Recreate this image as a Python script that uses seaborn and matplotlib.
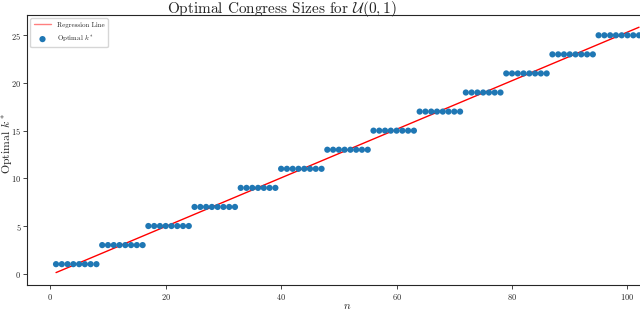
import numpy as np
import pandas as pd
import seaborn as sns
import matplotlib
matplotlib.use("Agg")
import matplotlib.pyplot as plt

# optimal congress size k* for each n
k_levels = [1, 3, 5, 7, 9, 11, 13, 15, 17, 19, 21, 23, 25]
group_sizes = [8, 8, 8, 8, 7, 8, 8, 8, 8, 7, 8, 8, 8]

n_vals = np.arange(1, sum(group_sizes) + 1)
k_vals = np.repeat(k_levels, group_sizes)
df = pd.DataFrame({"n": n_vals, "k": k_vals})

slope, intercept = np.polyfit(df["n"], df["k"], 1)
df["fit"] = intercept + slope * df["n"]

sns.set_style("ticks")
plt.rcParams["font.family"] = ["cmr10", "DejaVu Serif"]
plt.rcParams["mathtext.fontset"] = "cm"
plt.rcParams["axes.formatter.use_mathtext"] = True

fig = plt.figure(figsize=(6.4, 3.12), dpi=100)
ax = fig.add_axes([0.042, 0.087, 1.002, 0.865])

sns.lineplot(data=df, x="n", y="fit", ax=ax, color="red", lw=1.0,
             label="Regression Line")
sns.scatterplot(data=df, x="n", y="k", ax=ax, color="#1f77b4", s=20,
                edgecolor="none", label=r"Optimal $k^*$", zorder=3)

ax.set_xticks([0, 20, 40, 60, 80, 100])
ax.set_yticks([0, 5, 10, 15, 20, 25])
ax.tick_params(labelsize=6, length=3, width=0.6, pad=2)
ax.tick_params(axis="y", pad=1)
ax.set_xlabel(r"$n$", fontsize=8, labelpad=0)
ax.set_ylabel("")
fig.text(0.0105, 0.54, r"Optimal $k^*$", rotation=90, ha="center",
         va="center", fontsize=8.5)
for sp in ax.spines.values():
    sp.set_linewidth(0.8)

leg = ax.legend(loc="upper left", fontsize=5, frameon=True, borderpad=0.5,
                handlelength=2.5, labelspacing=0.8)
leg.legend_handles[0].set_alpha(0.5)

fig.text(0.44, 0.972, r"Optimal Congress Sizes for $\mathcal{U}(0,1)$",
         ha="center", va="center", fontsize=11)

fig.savefig("out.png", dpi=100)
